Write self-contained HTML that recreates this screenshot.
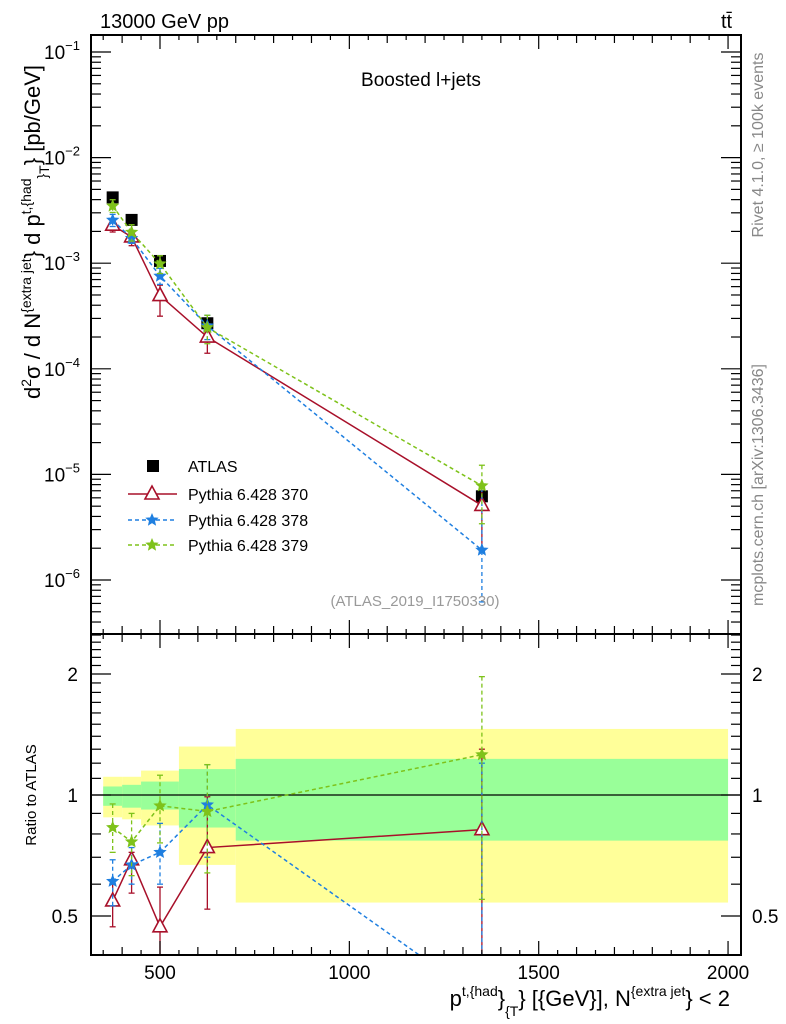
<!DOCTYPE html>
<html><head><meta charset="utf-8"><style>
html,body{margin:0;padding:0;background:#fff;width:786px;height:1024px;overflow:hidden;}
svg{display:block;font-family:"Liberation Sans",Arial,sans-serif;}
</style></head><body>
<svg id="c" width="786" height="1024" viewBox="0 0 786 1024">
<rect x="0" y="0" width="786" height="1024" fill="#fff"/>
<g id="bands"></g>
<g id="plot"></g>
<g id="axes"></g>
<text x="100" y="28" font-size="20">13000 GeV pp</text>
<text x="721" y="28" font-size="20">tt̄</text>
<text x="421" y="86" font-size="19" text-anchor="middle">Boosted l+jets</text>
<text x="415" y="606" font-size="15" fill="#999" text-anchor="middle">(ATLAS_2019_I1750330)</text>
<text transform="translate(763,145) rotate(-90)" font-size="16" fill="#888" text-anchor="middle">Rivet 4.1.0, ≥ 100k events</text>
<text transform="translate(763,485) rotate(-90)" font-size="16" fill="#888" text-anchor="middle">mcplots.cern.ch [arXiv:1306.3436]</text>
<text transform="translate(40,232) rotate(-90)" font-size="22" text-anchor="middle">d<tspan font-size="14" dy="-9">2</tspan><tspan dy="9">σ / d N</tspan><tspan font-size="14" dy="-9">{extra jet</tspan><tspan dy="9">} d p</tspan><tspan font-size="14" dy="-9">t,{had</tspan><tspan font-size="14" dy="16">}</tspan><tspan font-size="14" dy="2">T</tspan><tspan dy="-9">} [pb/GeV]</tspan></text>
<text transform="translate(36,795) rotate(-90)" font-size="15" text-anchor="middle">Ratio to ATLAS</text>
<text x="730" y="1006" font-size="22" text-anchor="end">p<tspan font-size="14" dy="-10">t,{had</tspan><tspan dy="10">}</tspan><tspan font-size="14" dy="10">{T</tspan><tspan dy="-10">} [{GeV}], N</tspan><tspan font-size="14" dy="-10">{extra jet</tspan><tspan dy="10">} &lt; 2</tspan></text>
<g id="legend"></g>
</svg>
<script>
const binEdges=[350,400,450,550,700,2000];
const xVals=[375,425,500,625,1350];
const atlas=[4.2e-3,2.57e-3,1.05e-3,2.7e-4,6.2e-6];
const ratio370=[0.545,0.69,0.47,0.74,0.82];
const ratio378=[0.61,0.67,0.72,0.945,0.31];
const ratio379=[0.83,0.765,0.94,0.91,1.26];
const err370Lo=[0.47,0.57,0.3,0.52,0.3];
const err370Hi=[0.6,0.72,0.59,0.99,1.3];
const err378Lo=[0.53,0.60,0.60,0.70,0.1];
const err378Hi=[0.69,0.74,0.85,1.19,1.2];
const err379Lo=[0.72,0.63,0.76,0.64,0.55];
const err379Hi=[0.95,0.90,1.12,1.19,1.97];
const bandTotLo=[0.88,0.87,0.84,0.67,0.54];
const bandTotHi=[1.11,1.11,1.15,1.32,1.46];
const bandStatLo=[0.94,0.93,0.92,0.83,0.77];
const bandStatHi=[1.05,1.06,1.08,1.16,1.23];
const xTickLabels=[500,1000,1500,2000];
const yTickExps=[-1,-2,-3,-4,-5,-6];
const rTickLabels=[2,1,0.5];

const NS="http://www.w3.org/2000/svg";
const L=91,R=741,T=35,MB=634,RB=955;
const X=v=>160+(v-500)*0.3787;
const Y=v=>52+(-1-Math.log10(v))*105.6;
const RY=v=>795-Math.log2(v)*121;
function mk(tag,attrs,parent){const e=document.createElementNS(NS,tag);for(const k in attrs)e.setAttribute(k,attrs[k]);parent.appendChild(e);return e;}
const plot=document.getElementById('plot'),axes=document.getElementById('axes'),bands=document.getElementById('bands');

for(let i=0;i<5;i++){
  const x1=X(binEdges[i]),x2=X(binEdges[i+1]);
  const t=mk('rect',{x:x1,y:RY(bandTotHi[i]),width:x2-x1,height:RY(bandTotLo[i])-RY(bandTotHi[i]),fill:'#ffff99'},bands);
  
  
  const s=mk('rect',{x:x1,y:RY(bandStatHi[i]),width:x2-x1,height:RY(bandStatLo[i])-RY(bandStatHi[i]),fill:'#99ff99'},bands);
  
  
}
const one=mk('line',{x1:L,x2:R,y1:RY(1),y2:RY(1),stroke:'#000','stroke-width':1.3},bands);



const defs=mk('defs',{},plot);
const c1=mk('clipPath',{id:'cm'},defs);mk('rect',{x:L,y:T,width:R-L,height:MB-T},c1);
const c2=mk('clipPath',{id:'cr'},defs);mk('rect',{x:L,y:MB,width:R-L,height:RB-MB},c2);
const gm=mk('g',{'clip-path':'url(#cm)'},plot),gr=mk('g',{'clip-path':'url(#cr)'},plot);

function star(g,x,y,col,r){
  let p='';for(let k=0;k<10;k++){const a=-Math.PI/2+k*Math.PI/5,rr=k%2?r*0.45:r;p+=(x+rr*Math.cos(a)).toFixed(1)+','+(y+rr*Math.sin(a)).toFixed(1)+' ';}
  return mk('polygon',{points:p,fill:col,stroke:col,'stroke-width':0.8},g);
}
const series=[
 {name:'370',r:ratio370,lo:err370Lo,hi:err370Hi,col:'#a8102a',dash:'',m:'tri'},
 {name:'378',r:ratio378,lo:err378Lo,hi:err378Hi,col:'#1f7fe0',dash:'4,3',m:'star'},
 {name:'379',r:ratio379,lo:err379Lo,hi:err379Hi,col:'#7ec21a',dash:'4,3',m:'star'}
];
function drawSeries(g,yf,vals,lo,hi,s){
  let pts=xVals.map((x,i)=>X(x)+','+yf(vals[i])).join(' ');
  const pl=mk('polyline',{points:pts,fill:'none',stroke:s.col,'stroke-width':1.5,'stroke-dasharray':s.dash},g);
  
  
  xVals.forEach((xv,i)=>{
    const x=X(xv),y1=yf(hi[i]),y2=yf(lo[i]);
    const eb=mk('line',{x1:x,x2:x,y1:y1,y2:y2,stroke:s.col,'stroke-width':1.3,'stroke-dasharray':s.dash},g);
    
    
    mk('line',{x1:x-3,x2:x+3,y1:y1,y2:y1,stroke:s.col,'stroke-width':1.3},g);
    mk('line',{x1:x-3,x2:x+3,y1:y2,y2:y2,stroke:s.col,'stroke-width':1.3},g);
    const y=yf(vals[i]);let m;
    if(s.m==='tri'){m=mk('polygon',{points:`${x},${y-8} ${x-7},${y+5} ${x+7},${y+5}`,fill:'#fff',stroke:s.col,'stroke-width':1.6},g);}
    else m=star(g,x,y,s.col,6);
    
    
  });
}
xVals.forEach((xv,i)=>{
  const x=X(xv),y=Y(atlas[i]);
  const r=mk('rect',{x:x-6,y:y-6,width:12,height:12,fill:'#000'},gm);
  
  
});
series.forEach(s=>{
  drawSeries(gm,Y,s.r.map((v,i)=>v*atlas[i]),s.lo.map((v,i)=>v*atlas[i]),s.hi.map((v,i)=>v*atlas[i]),s);
});
series.forEach(s=>{drawSeries(gr,RY,s.r,s.lo,s.hi,s);});

[[T,MB],[MB,RB]].forEach(([a,b])=>{
  const f=mk('rect',{x:L,y:a,width:R-L,height:b-a,fill:'none',stroke:'#000','stroke-width':2},axes);
  
  
});
for(let v=350;v<=2040;v+=50){
  const x=X(v);if(x<L||x>R)continue;
  const len=v%500===0?14:(v%100===0?8:5);
  [[MB,1],[RB,-1],[T,1],[MB,-1]].forEach(([y0,d])=>mk('line',{x1:x,x2:x,y1:y0,y2:y0+d*len,stroke:'#000','stroke-width':1.2},axes));
}
xTickLabels.forEach(v=>{
  const t=mk('text',{x:X(v),y:979,'font-size':19,'text-anchor':'middle'},axes);t.textContent=v;
  
  
});
for(let e=-7;e<=-1;e++){for(let k=1;k<10;k++){const v=k*Math.pow(10,e),y=Y(v);if(y<T||y>MB)continue;
  const len=k===1?20:10;
  mk('line',{x1:L,x2:L+len,y1:y,y2:y,stroke:'#000','stroke-width':1.2},axes);
  mk('line',{x1:R,x2:R-len,y1:y,y2:y,stroke:'#000','stroke-width':1.2},axes);}}
yTickExps.forEach(e=>{
  const t=mk('text',{x:80,y:Y(Math.pow(10,e))+7,'font-size':19,'text-anchor':'end'},axes);
  t.innerHTML='10<tspan font-size="13" dy="-9">'+(e<0?'−'+(-e):e)+'</tspan>';
  
  
});
for(let v=0.4;v<=2.5;v=Math.round((v+0.1)*10)/10){const y=RY(v);if(y<MB||y>RB)continue;
  const len=(v===0.5||v===1||v===2)?20:10;
  mk('line',{x1:L,x2:L+len,y1:y,y2:y,stroke:'#000','stroke-width':1.2},axes);
  mk('line',{x1:R,x2:R-len,y1:y,y2:y,stroke:'#000','stroke-width':1.2},axes);}
rTickLabels.forEach(v=>{
  const t=mk('text',{x:78,y:RY(v)+7,'font-size':19,'text-anchor':'end'},axes);t.textContent=v;
  
  
  const t2=mk('text',{x:752,y:RY(v)+7,'font-size':19},axes);t2.textContent=v;
  
  
});
const lg=document.getElementById('legend');
const lrows=[['ATLAS',null,466],['Pythia 6.428 370',series[0],494],['Pythia 6.428 378',series[1],520],['Pythia 6.428 379',series[2],545]];
lrows.forEach(([txt,s,y])=>{
  const g=mk('g',{},lg);
  
  
  if(!s){mk('rect',{x:147,y:y-6,width:12,height:12,fill:'#000'},g);}
  else{mk('line',{x1:128,x2:177,y1:y,y2:y,stroke:s.col,'stroke-width':1.5,'stroke-dasharray':s.dash},g);
    if(s.m==='tri')mk('polygon',{points:`152,${y-8} 145,${y+5} 159,${y+5}`,fill:'#fff',stroke:s.col,'stroke-width':1.6},g);
    else star(g,152,y,s.col,6);}
  const t=mk('text',{x:188,y:y+6,'font-size':16},g);t.textContent=txt;
});
</script>
</body></html>
